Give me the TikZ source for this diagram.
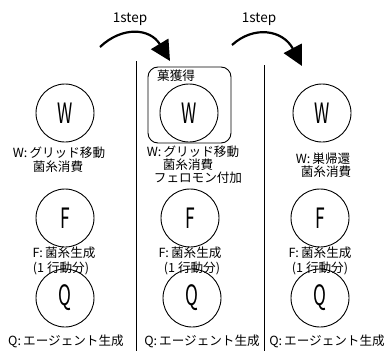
\documentclass[tikz,border=0pt]{standalone}
\usepackage{fontspec}
\setmainfont{Noto Sans CJK JP}
\usetikzlibrary{arrows.meta}
\begin{document}
\begin{tikzpicture}[x=1pt,y=-1pt,
  agent/.style={draw,circle,minimum size=58pt,inner sep=0pt,line width=0.9pt},
  lbl/.style={inner sep=0pt,font=\fontsize{12.6}{13}\selectfont},
  big/.style={font=\fontsize{28}{28}\selectfont},
  steparrow/.style={line width=2.2pt,-{Triangle[length=20pt,width=20pt]}},
  sep/.style={line width=0.9pt}]
\useasboundingbox (0,0) rectangle (389,351);
\newcommand{\ltr}[1]{\scalebox{0.62}[1]{#1}}
% step labels
\node[lbl,font=\fontsize{13.5}{14}\selectfont] (s1) at (130,19) {1step};
\node[lbl,font=\fontsize{13.5}{14}\selectfont] (s2) at (259,19) {1step};
% arrows
\coordinate (a1s) at (100,47);
\coordinate (a1e) at (170,61);
\coordinate (a2s) at (232,45);
\coordinate (a2e) at (302,66);
\draw[steparrow] (a1s) .. controls (122,26) and (150,28) .. (a1e);
\draw[steparrow] (a2s) .. controls (254,25) and (283,30) .. (a2e);
% separators
\coordinate (v1t) at (136,61); \coordinate (v1b) at (136,351);
\coordinate (v2t) at (264,65); \coordinate (v2b) at (264,351);
\draw[sep] (v1t) -- (v1b);
\draw[sep] (v2t) -- (v2b);
% rounded box
\node[draw,rounded corners=10pt,line width=0.9pt,minimum width=83pt,minimum height=76pt,inner sep=0pt] (box) at (189.5,105) {};
\node[lbl,anchor=west] (boxl) at (157,76) {菓獲得};
% circles
\node[agent,big] (w1) at (65,113) {\ltr{W}};
\node[agent,big] (w2) at (189,113) {\ltr{W}};
\node[agent,big] (w3) at (322,113) {\ltr{W}};
\node[agent,big] (f1) at (65,218) {\ltr{F}};
\node[agent,big] (f2) at (190,218) {\ltr{F}};
\node[agent,big] (f3) at (320,218) {\ltr{F}};
\node[agent,big] (q1) at (65,298) {\ltr{Q}};
\node[agent,big] (q2) at (192,298) {\ltr{Q}};
\node[agent,big] (q3) at (320,298) {\ltr{Q}};
% W labels
\node[lbl] (w1a) at (59,153) {W:\,グリッド移動};
\node[lbl] (w1b) at (58,167) {菌糸消費};
\node[lbl] (w2a) at (193,152) {W:\,グリッド移動};
\node[lbl] (w2b) at (188,165) {菌糸消費};
\node[lbl] (w2c) at (198,178) {フェロモン付加};
\node[lbl] (w3a) at (323,159) {W:\,巣帰還};
\node[lbl] (w3b) at (326,172) {菌糸消費};
% F labels
\node[lbl] (f1a) at (64,253) {F:\,菌糸生成};
\node[lbl] (f1b) at (61,268) {(1 行動分)};
\node[lbl] (f2a) at (190,253) {F:\,菌糸生成};
\node[lbl] (f2b) at (192,268) {(1 行動分)};
\node[lbl] (f3a) at (320,253) {F:\,菌糸生成};
\node[lbl] (f3b) at (320,268) {(1 行動分)};
% Q labels
\node[lbl] (q1a) at (66,341) {Q:\,エージェント生成};
\node[lbl] (q2a) at (202,341) {Q:\,エージェント生成};
\node[lbl] (q3a) at (327,341) {Q:\,エージェント生成};
\end{tikzpicture}
\end{document}
